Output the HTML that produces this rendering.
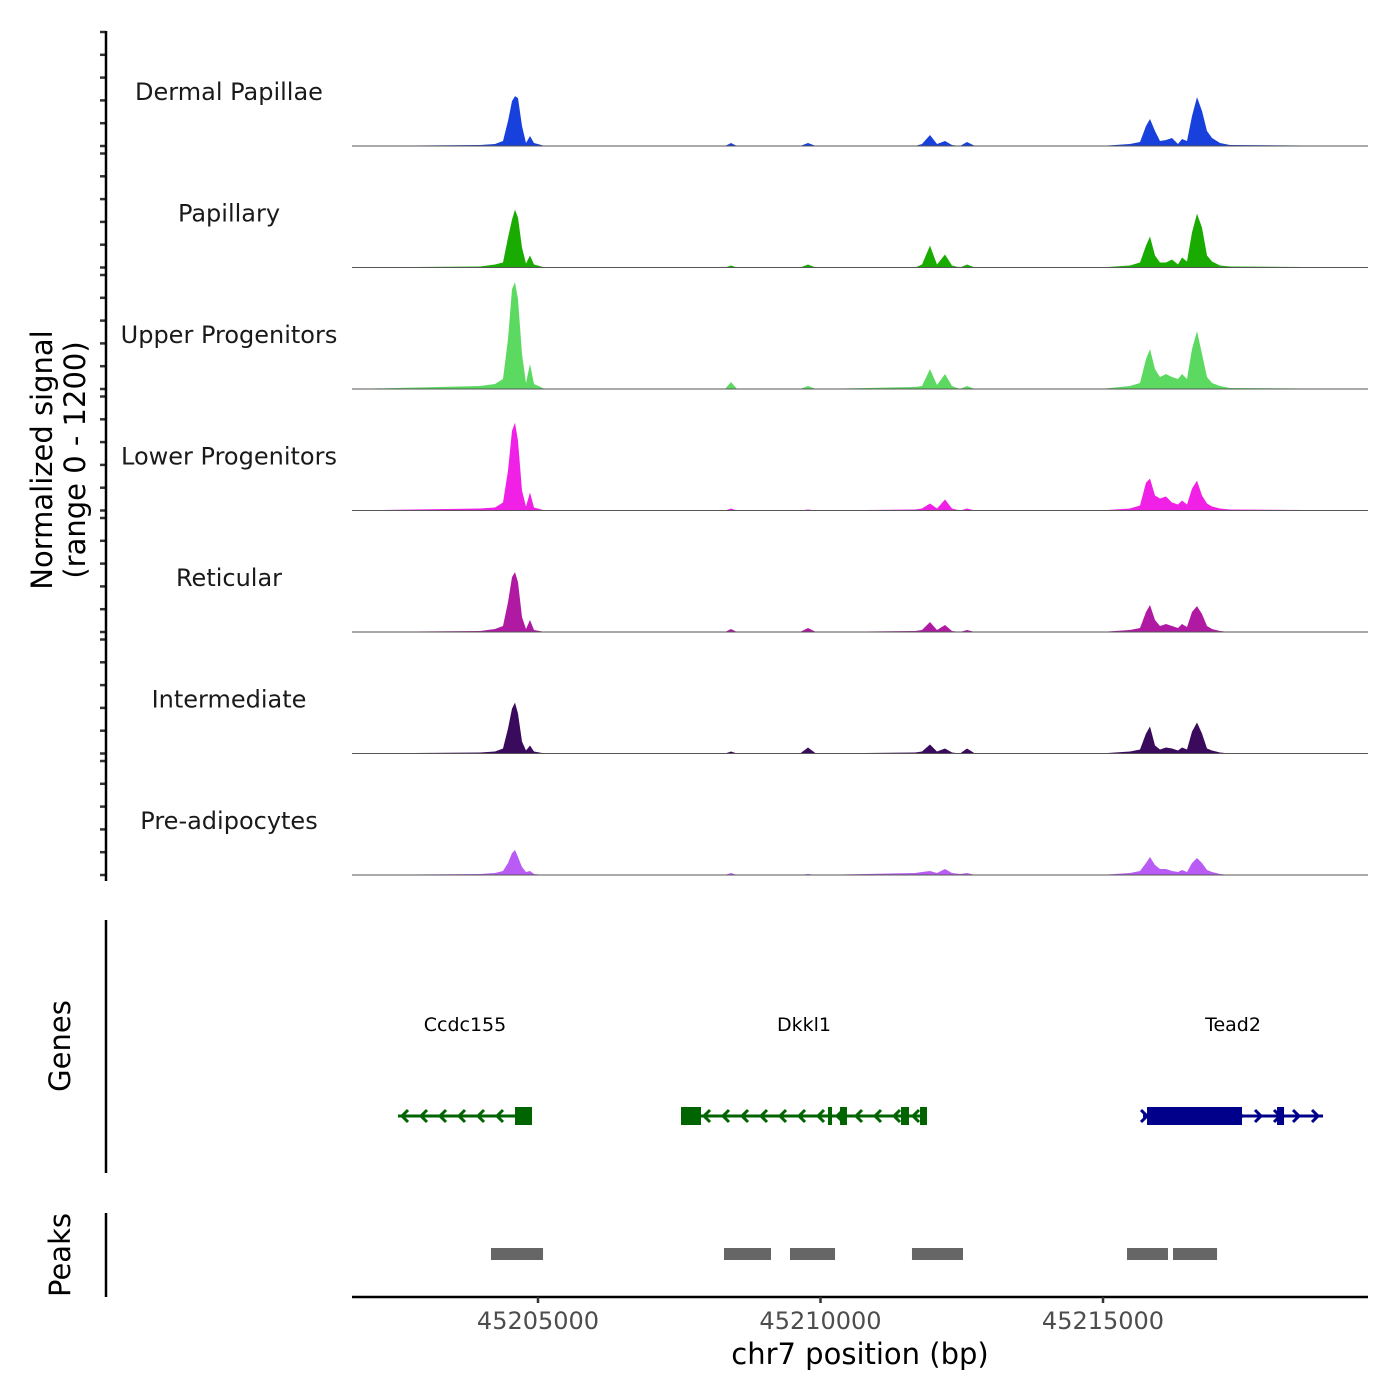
<!DOCTYPE html>
<html><head><meta charset="utf-8"><style>
body{margin:0;background:#fff}
svg{display:block;font-family:"DejaVu Sans","Liberation Sans",sans-serif}
</style></head><body>
<svg id="chart" width="1400" height="1400" viewBox="0 0 1400 1400"></svg>
<script>
// ---- data ----
const positions=[45201708,45203973,45204239,45204381,45204469,45204540,45204593,45204646,45204717,45204788,45204858,45204929,45205124,45206097,45208310,45208416,45208522,45209637,45209779,45209920,45211673,45211796,45211938,45212062,45212203,45212327,45212469,45212593,45212734,45214947,45215478,45215655,45215761,45215832,45215920,45216009,45216115,45216221,45216327,45216398,45216487,45216575,45216664,45216752,45216841,45216929,45217071,45217248,45219690];
const trackNames=["Dermal Papillae","Papillary","Upper Progenitors","Lower Progenitors","Reticular","Intermediate","Pre-adipocytes"];
const trackColors=["#1840dc","#1aab00","#5cd960","#f020e6","#b01aa2","#3a0a5c","#b85cf5"];
const dermalPapillae=[0,11,21,53,263,473,525,504,210,32,105,32,0,0,0,32,0,0,32,0,0,21,116,21,53,11,0,42,0,0,21,42,210,284,158,53,63,84,21,74,53,315,515,368,158,84,32,11,0];
const papillary=[0,11,32,53,315,504,609,525,210,42,126,32,0,0,0,21,0,0,32,0,0,32,231,32,137,21,0,32,0,0,21,53,231,326,126,53,53,84,32,105,63,368,567,420,126,63,21,11,0];
const upperProgenitors=[0,32,53,105,525,1050,1124,945,368,63,263,53,0,0,0,74,0,0,32,0,21,32,210,42,158,32,0,32,0,0,32,63,315,420,210,126,158,126,105,158,105,420,609,368,126,63,32,11,0];
const lowerProgenitors=[0,21,32,84,420,840,924,735,210,42,189,32,0,0,0,21,0,0,11,0,11,21,74,21,116,21,0,21,0,0,21,53,294,336,158,126,147,84,63,105,63,231,315,158,74,42,21,11,0];
const reticular=[0,11,32,63,315,578,630,525,158,32,126,21,0,0,0,32,0,0,42,0,11,21,105,21,74,11,0,21,0,0,21,42,210,284,126,63,84,63,42,84,53,210,273,189,63,32,11,0,0];
const intermediate=[0,11,21,53,263,473,536,420,126,32,84,21,0,0,0,21,0,0,63,0,11,21,95,21,53,11,0,53,0,0,21,42,210,284,84,42,63,53,32,63,42,231,326,210,53,32,11,0,0];
const preAdipocytes=[0,11,21,42,126,231,263,189,84,32,42,11,0,0,0,21,0,0,11,0,21,32,42,21,63,21,11,21,0,0,21,42,126,189,105,63,63,42,32,53,32,126,179,126,53,32,11,0,0];
const seriesValues=[dermalPapillae,papillary,upperProgenitors,lowerProgenitors,reticular,intermediate,preAdipocytes];
const xTicks=[45205000,45210000,45215000];
const peakStarts=[45204168,45208292,45209460,45211619,45215425,45216239];
const peakEnds=[45205089,45209124,45210257,45212522,45216150,45217018];
const geneNames=["Ccdc155","Dkkl1","Tead2"];
const geneStarts=[45202522,45207531,45215708];
const geneEnds=[45204894,45211885,45218894];
const geneStrands=[-1,-1,1];
const geneColors=["#006400","#006400","#00008b"];
const exonGene=[0,1,1,1,1,1,2,2];
const exonStarts=[45204593,45207531,45210133,45210345,45211425,45211761,45215779,45218080];
const exonEnds=[45204894,45207885,45210204,45210469,45211566,45211885,45217460,45218204];
const yMax=1200;

// ---- scales ----
const X0=352,X1=1368,D0=45201708,D1=45219690;
const xs=v=>X0+(v-D0)/(D1-D0)*(X1-X0);
const trackH=114, firstBase=146, trackStep=121.5;
const NS="http://www.w3.org/2000/svg";
const svg=document.getElementById("chart");
function mk(tag,attrs,parent){const e=document.createElementNS(NS,tag);for(const k in attrs)e.setAttribute(k,attrs[k]);(parent||svg).appendChild(e);return e;}

// tracks
seriesValues.forEach((vals,t)=>{
  const base=firstBase+t*trackStep;
  const ys=v=>base-v/yMax*trackH;
  const g=mk("g",{});
  
  
  let d="M"+xs(positions[0])+","+base;
  positions.forEach((p,i)=>{d+=" L"+xs(p).toFixed(1)+","+ys(vals[i]).toFixed(1);});
  d+=" L"+xs(positions[positions.length-1])+","+base+" Z";
  const a=mk("path",{d:d,fill:trackColors[t]},g);
  
  
  const bl=mk("line",{x1:X0,x2:X1,y1:base,y2:base,stroke:"#555",'stroke-width':1},g);
  
  
  const lb=mk("text",{x:229,y:base-46,'text-anchor':'middle','font-size':24,fill:'#1a1a1a'},g);
  lb.textContent=trackNames[t];
  
  
  for(let k=0;k<=5;k++){
    const ty=base-k*trackH/5;
    const tk=mk("line",{x1:100,x2:106,y1:ty,y2:ty,stroke:"#333",'stroke-width':2.5});
    
    
  }
});
let ax=mk("line",{x1:106,x2:106,y1:31,y2:881,stroke:"#000",'stroke-width':2.5});


let yt=mk("text",{transform:"translate(52,460) rotate(-90)",'text-anchor':'middle','font-size':29,fill:'#000'});


yt.innerHTML='<tspan x="0" dy="0">Normalized signal</tspan><tspan x="0" dy="33">(range 0 - 1200)</tspan>';

// genes
ax=mk("line",{x1:106,x2:106,y1:920,y2:1173,stroke:"#000",'stroke-width':2.5});


let gt=mk("text",{transform:"translate(70,1046) rotate(-90)",'text-anchor':'middle','font-size':29});
gt.textContent="Genes";


const GY=1116;
geneNames.forEach((n,i)=>{
  const g=mk("g",{});
  
  
  const c=geneColors[i],x1=xs(geneStarts[i]),x2=xs(geneEnds[i]);
  mk("line",{x1:x1,x2:x2,y1:GY,y2:GY,stroke:c,'stroke-width':3},g);
  const s=geneStrands[i];
  for(let x=x1+4;x<=x2-2;x+=19){
    mk("path",{d:`M${x-s*6},${GY-6} L${x},${GY} L${x-s*6},${GY+6}`,fill:'none',stroke:c,'stroke-width':3},g);
  }
  const lt=mk("text",{x:xs((geneStarts[i]+geneEnds[i])/2),y:1031,'text-anchor':'middle','font-size':19,fill:'#000'},g);
  lt.textContent=n;
  
  
});
exonStarts.forEach((s,i)=>{
  const x1=xs(s),x2=xs(exonEnds[i]);
  const r=mk("rect",{x:x1,y:GY-9,width:Math.max(x2-x1,4),height:18,fill:geneColors[exonGene[i]]});
  
  
});

// peaks
ax=mk("line",{x1:106,x2:106,y1:1213,y2:1297,stroke:"#000",'stroke-width':2.5});


let pt=mk("text",{transform:"translate(70,1255) rotate(-90)",'text-anchor':'middle','font-size':29});
pt.textContent="Peaks";


peakStarts.forEach((s,i)=>{
  const r=mk("rect",{x:xs(s),y:1248,width:xs(peakEnds[i])-xs(s),height:12,fill:'#666'});
  
  
});

// x axis
ax=mk("line",{x1:X0,x2:X1,y1:1297,y2:1297,stroke:"#000",'stroke-width':2.5});


xTicks.forEach(v=>{
  const x=xs(v);
  const t=mk("line",{x1:x,x2:x,y1:1297,y2:1303,stroke:"#333",'stroke-width':2.5});
  
  
  const l=mk("text",{x:x,y:1329,'text-anchor':'middle','font-size':24,fill:'#4d4d4d'});
  l.textContent=String(v);
  
  
});
let xt=mk("text",{x:860,y:1364,'text-anchor':'middle','font-size':29,fill:'#000'});
xt.textContent="chr7 position (bp)";


</script>
</body></html>
